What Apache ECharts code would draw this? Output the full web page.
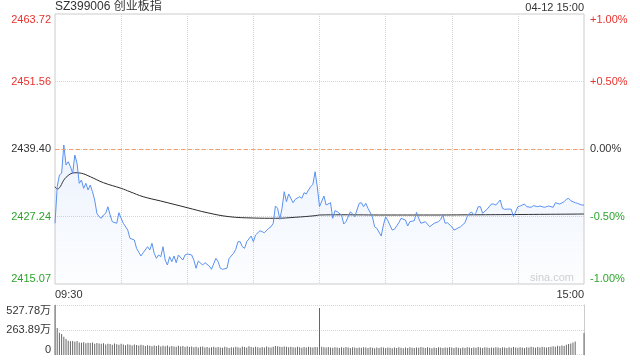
<!DOCTYPE html>
<html><head><meta charset="utf-8">
<script src="https://cdn.jsdelivr.net/npm/echarts@6/dist/echarts.min.js"></script>
<style>html,body{margin:0;padding:0;background:#fff}#c{width:640px;height:360px}</style>
</head><body><div id="c"></div>
<script>
const titleText = 'SZ399006 创业板指';
const dateText = '04-12 15:00';
const watermark = 'sina.com';
const prevClose = 2439.40;
const priceMin = 2415.07, priceMax = 2463.72;
const priceTicks = ['2415.07', '2427.24', '2439.40', '2451.56', '2463.72'];
const pctTicks = ['-1.00%', '-0.50%', '0.00%', '+0.50%', '+1.00%'];
const volTicks = ['0', '263.89万', '527.78万'];
const volMax = 527.78;
const timeLabels = ['09:30', '15:00'];
const lastMinute = 240;

const priceTime = [
  0,1,2,3,4,5,6,7,8,9,
  10,11,12,13,14,15,16,17,18,19,
  20,21,22,23,24,25,26,28,29,30,
  31,33,34,36,37,39,40,42,43,44,
  45,46,47,48,49,50,51,52,53,54,
  55,56,58,59,60,62,63,64,65,67,
  68,70,71,73,74,75,76,78,79,81,
  82,83,84,85,86,87,89,90,91,93,
  94,95,97,98,99,100,101,102,103,104,
  105,106,108,109,111,112,113,114,115,116,
  117,118,119,120,122,123,125,126,127,128,
  130,131,132,134,135,136,138,139,140,141,
  142,144,145,146,148,149,150,151,153,154,
  156,157,159,160,161,163,164,165,166,168,
  170,172,174,175,176,177,178,180,181,182,
  184,186,187,188,189,190,191,192,193,194,
  196,198,199,200,202,203,204,206,207,208,
  210,211,213,214,216,217,219,220,222,223,
  224,226,227,229,231,232,233,234,236,237,
  239,240
];
const priceValue = [
  2426.01,2432.60,2434.71,2435.02,2440.12,2436.51,2437.11,2436.21,2435.02,2438.31,
  2436.82,2433.21,2433.81,2432.31,2433.21,2432.01,2432.91,2431.70,2430.21,2427.81,
  2427.20,2426.91,2427.50,2427.81,2429.00,2427.50,2426.30,2426.01,2427.92,2426.91,
  2426.01,2424.80,2423.30,2423.00,2421.50,2420.12,2420.71,2421.79,2421.20,2422.40,
  2420.60,2419.70,2420.30,2419.99,2421.79,2419.39,2418.49,2419.99,2419.09,2420.12,
  2418.91,2420.30,2419.39,2420.30,2420.48,2420.30,2419.39,2417.90,2419.21,2418.49,
  2418.91,2418.31,2417.72,2419.70,2419.09,2417.90,2417.72,2417.90,2419.70,2420.60,
  2421.32,2422.69,2422.69,2421.79,2421.50,2422.69,2423.72,2422.69,2423.90,2424.67,
  2424.49,2424.31,2425.11,2425.39,2426.01,2429.12,2428.71,2426.73,2428.71,2431.70,
  2429.90,2431.29,2429.72,2430.33,2430.80,2430.51,2431.52,2431.29,2432.01,2432.60,
  2433.03,2435.30,2432.60,2429.00,2430.93,2429.30,2429.72,2426.91,2428.28,2428.10,
  2427.50,2425.88,2426.30,2428.10,2427.68,2427.20,2429.61,2429.72,2429.00,2429.61,
  2428.71,2427.20,2425.39,2425.11,2423.72,2425.70,2427.20,2426.48,2424.80,2424.93,
  2426.12,2426.91,2426.60,2425.52,2426.30,2426.48,2427.99,2426.91,2426.01,2426.30,
  2425.39,2426.01,2426.30,2426.73,2427.50,2426.01,2426.12,2425.39,2424.80,2424.98,
  2425.39,2426.12,2427.20,2427.81,2428.04,2427.50,2427.92,2429.00,2429.00,2427.81,
  2428.53,2429.48,2429.48,2429.30,2430.21,2428.71,2428.53,2428.58,2428.53,2427.20,
  2429.00,2429.12,2429.48,2429.00,2428.89,2429.18,2429.00,2429.12,2428.89,2429.00,
  2429.12,2428.89,2429.72,2429.48,2429.90,2430.33,2430.51,2430.08,2429.72,2429.61,
  2429.30,2429.30
];
const avgTime = [0,1,5,9,12,16,22,30,34,40,48,60,69,79,90,100,109,118,120,130,150,170,190,210,240];
const avgValue = [
  2432.60,2432.19,2434.29,2435.12,2435.02,2434.40,2433.32,2432.31,2431.70,2430.80,
  2430.02,2428.82,2427.92,2427.20,2426.96,2426.91,2427.09,2427.38,2427.50,2427.54,
  2427.50,2427.50,2427.54,2427.59,2427.68
];
const volMorning = [
  527.78,285,236,222,192,168,150,146,149,141,147,131,128,135,124,129,126,133,120,127,122,
  118,125,112,120,116,109,121,114,107,118,110,104,113,108,101,112,105,99,108,102,
  96,104,98,92,101,95,103,90,97,93,99,88,95,91,86,97,89,94,85,92,
  84,90,82,88,79,86,91,80,85,77,83,88,78,84,80,76,87,81,75,83,
  79,86,82,77,90,84,80,93,85,78,88,82,76,84,80,89,83,78,86,95,
  92,88,84,90,86,81,88,83,79,86,82,77,84,80,87,83,79,85,81,
  495
];
const volAfternoon = [
  88,82,79,85,80,76,83,78,74,81,77,84,79,75,82,78,73,80,76,83,
  79,74,81,77,72,79,75,82,78,73,80,76,71,78,74,81,77,72,79,75,
  81,77,73,80,76,84,79,74,81,77,72,79,75,82,78,73,80,76,83,79,
  74,81,77,72,79,75,82,78,74,80,76,84,79,75,82,78,73,80,76,83,
  79,75,82,78,74,81,77,85,80,76,83,79,75,82,78,86,81,77,84,80,
  87,82,78,85,86,93,88,97,92,101,96,108,115,122,133,142,3,3,3,232
];

const FONT = 'Liberation Sans, Arial, Noto Sans CJK SC, sans-serif';
const RED = '#e8322e', GREEN = '#2ca42c', DARK = '#333';
const priceStep = (priceMax - priceMin) / 4;
const priceIdx = v => Math.round((Number(v) - priceMin) / priceStep);
const pctIdx = v => Math.round((Number(v) + 1) / 0.5);
const tickColor = i => i > 2 ? RED : (i < 2 ? GREEN : DARK);

const priceData = priceTime.map((t, i) => [t, priceValue[i]]);
const avgData = avgTime.map((t, i) => [t, avgValue[i]]);
const volData = volMorning.concat(volAfternoon).map((v, i) => [i, v]);

const chart = echarts.init(document.getElementById('c'), null, {renderer: 'canvas'});
const gridLine = {show: true, lineStyle: {color: '#d4d4d4', type: 'dotted', width: 1}, showMinLine: false, showMaxLine: false};
chart.setOption({
  animation: false,
  textStyle: {fontFamily: FONT},
  graphic: [
    {type: 'text', left: 55, top: 1, style: {text: titleText, font: '12px ' + FONT, fill: DARK}},
    {type: 'text', right: 56, top: 2, style: {text: dateText, font: '11px ' + FONT, fill: DARK}},
    {type: 'text', right: 66, top: 272, z: 10, style: {text: watermark, font: '11px ' + FONT, fill: '#cfcfcf'}}
  ],
  grid: [
    {left: 55, right: 56, top: 14, height: 270, show: true, borderColor: '#cccccc', borderWidth: 1, outerBoundsMode: 'none'},
    {left: 55, right: 56, top: 305, height: 50, outerBoundsMode: 'none'}
  ],
  xAxis: [
    {type: 'value', gridIndex: 0, min: 0, max: lastMinute, interval: 30,
     axisLine: {show: false}, axisTick: {show: false}, splitLine: gridLine,
     axisLabel: {show: true, margin: 5, fontSize: 11, color: DARK, fontFamily: FONT,
       showMinLabel: true, showMaxLabel: true, alignMinLabel: 'left', alignMaxLabel: 'right',
       formatter: v => v === 0 ? timeLabels[0] : (v === lastMinute ? timeLabels[1] : '')}},
    {type: 'value', gridIndex: 1, min: 0, max: lastMinute, interval: 30,
     axisLine: {show: false}, axisTick: {show: false}, splitLine: {show: false}, axisLabel: {show: false}}
  ],
  yAxis: [
    {type: 'value', gridIndex: 0, min: priceMin, max: priceMax, interval: priceStep, scale: true,
     axisLine: {show: false}, axisTick: {show: false}, splitLine: gridLine,
     axisLabel: {margin: 4, fontSize: 11, fontFamily: FONT,
       verticalAlignMinLabel: 'bottom', verticalAlignMaxLabel: 'top',
       formatter: v => priceTicks[priceIdx(v)] || '',
       color: v => tickColor(priceIdx(v))}},
    {type: 'value', gridIndex: 0, position: 'right', min: -1, max: 1, interval: 0.5,
     axisLine: {show: false}, axisTick: {show: false}, splitLine: {show: false},
     axisLabel: {margin: 6, fontSize: 11, fontFamily: FONT,
       verticalAlignMinLabel: 'bottom', verticalAlignMaxLabel: 'top',
       formatter: v => pctTicks[pctIdx(v)] || '',
       color: v => tickColor(pctIdx(v))}},
    {type: 'value', gridIndex: 1, min: 0, max: volMax, interval: volMax / 2,
     axisLine: {show: true, lineStyle: {color: '#cccccc'}}, axisTick: {show: false},
     splitLine: {show: true, lineStyle: {color: '#d4d4d4', type: 'dotted'}, showMinLine: false, showMaxLine: true},
     axisLabel: {margin: 4, fontSize: 11, color: DARK, fontFamily: FONT,
       verticalAlignMinLabel: 'bottom', verticalAlignMaxLabel: 'top',
       formatter: v => volTicks[Math.round(Number(v) / (volMax / 2))] || ''}},
    {type: 'value', gridIndex: 1, position: 'right', min: 0, max: volMax,
     axisLine: {show: true, lineStyle: {color: '#cccccc'}}, axisTick: {show: false},
     splitLine: {show: false}, axisLabel: {show: false}}
  ],
  series: [
    {type: 'line', name: 'avg', xAxisIndex: 0, yAxisIndex: 0, data: avgData, smooth: 0.4,
     symbol: 'none', lineStyle: {color: '#2a2a2a', width: 1}, z: 3},
    {type: 'line', name: 'price', xAxisIndex: 0, yAxisIndex: 0, data: priceData,
     symbol: 'none', lineStyle: {color: '#5a91f0', width: 1}, z: 4,
     areaStyle: {origin: 'start', color: new echarts.graphic.LinearGradient(0, 0, 0, 1, [
       {offset: 0, color: 'rgba(90,145,240,0.17)'}, {offset: 1, color: 'rgba(90,145,240,0.02)'}])},
     markLine: {silent: true, symbol: ['none', 'none'], label: {show: false},
       lineStyle: {color: '#f0a070', type: [4, 3], width: 1},
       data: [{yAxis: prevClose}]}},
    {type: 'bar', name: 'vol', xAxisIndex: 1, yAxisIndex: 2, data: volData,
     barWidth: 1, itemStyle: {color: '#666'}, large: false}
  ]
});
</script>
</body></html>
